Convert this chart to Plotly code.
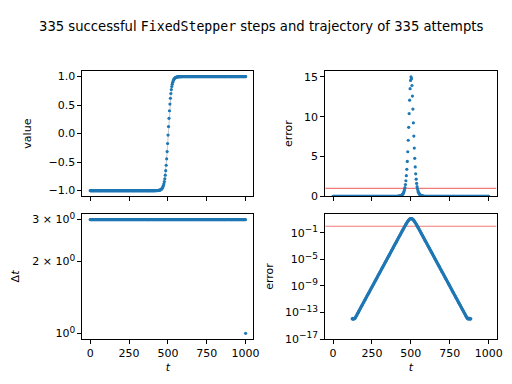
import plotly.graph_objects as go

# ---------------- data ----------------
n_steps = 335
tolerance = 1.0

# step sizes of the 335 successful steps (last one shortened to land on t=1000)
dt = [3.0] * 334 + [1.0]

# trajectory value: -1 plateau, transition t=405..597, +1 plateau
value_transition = [
    -0.9999, -0.9999, -0.9998, -0.9997, -0.9996, -0.9994, -0.9992, -0.9989, -0.9986, -0.9981,
    -0.9974, -0.9965, -0.9953, -0.9937, -0.9914, -0.9885, -0.9845, -0.9791, -0.9719, -0.9622,
    -0.9494, -0.9325, -0.9097, -0.8799, -0.8412, -0.7915, -0.7283, -0.6498, -0.5546, -0.4422,
    -0.3140, -0.1732, -0.0250,
    0.1244, 0.2683, 0.4011, 0.5190, 0.6201, 0.7039, 0.7718, 0.8260, 0.8680, 0.9007,
    0.9257, 0.9443, 0.9584, 0.9690, 0.9769, 0.9828, 0.9873, 0.9905, 0.9930, 0.9948,
    0.9961, 0.9971, 0.9979, 0.9984, 0.9988, 0.9991, 0.9994, 0.9995, 0.9997, 0.9997,
    0.9998, 0.9999,
]
value = [-1.0] * 135 + value_transition + [1.0] * 135

# error: zero far from the front, tiny plateau, log-linear tails, peak
err_left_plateau_log10 = [-13.95, -13.90, -14.00, -13.92, -13.97, -13.90]
err_left_tail_log10 = [
    -13.88, -13.75, -13.62, -13.49, -13.36, -13.23, -13.10, -12.97, -12.84, -12.71,
    -12.58, -12.44, -12.31, -12.18, -12.05, -11.92, -11.79, -11.66, -11.53, -11.40,
    -11.27, -11.14, -11.01, -10.88, -10.75, -10.62, -10.49, -10.36, -10.23, -10.10,
    -9.97, -9.84, -9.71, -9.58, -9.45, -9.32, -9.19, -9.06, -8.93, -8.80,
    -8.67, -8.54, -8.41, -8.28, -8.15, -8.02, -7.89, -7.76, -7.63, -7.49,
    -7.36, -7.23, -7.10, -6.97, -6.84, -6.71, -6.58, -6.45, -6.32, -6.19,
    -6.06, -5.93, -5.80, -5.67, -5.54, -5.41, -5.28, -5.15, -5.02, -4.89,
    -4.76, -4.63, -4.50, -4.37, -4.24, -4.11, -3.98, -3.85, -3.72, -3.59,
    -3.46, -3.33, -3.19, -3.06, -2.93, -2.80, -2.67, -2.54, -2.41, -2.28,
    -2.15, -2.02, -1.89, -1.76, -1.63, -1.50, -1.37, -1.24, -1.11, -0.98,
]
err_peak = [
    0.141, 0.190, 0.256, 0.344, 0.462, 0.621, 0.832, 1.11, 1.48, 1.96,
    2.59, 3.39, 4.39, 5.60, 7.04, 8.67, 10.39, 12.07, 13.52, 14.55,
    14.99, 14.77, 13.92, 12.59, 10.96, 9.23, 7.57, 6.06, 4.77, 3.70,
    2.83, 2.15, 1.62, 1.22, 0.917, 0.685, 0.510, 0.380, 0.282, 0.210,
    0.156,
]
err_right_tail_log10 = [
    -0.94, -1.07, -1.20, -1.33, -1.46, -1.59, -1.72, -1.85, -1.98, -2.11,
    -2.24, -2.37, -2.50, -2.63, -2.76, -2.89, -3.02, -3.15, -3.28, -3.41,
    -3.54, -3.67, -3.80, -3.93, -4.06, -4.19, -4.32, -4.45, -4.58, -4.71,
    -4.85, -4.98, -5.11, -5.24, -5.37, -5.50, -5.63, -5.76, -5.89, -6.02,
    -6.15, -6.28, -6.41, -6.54, -6.67, -6.80, -6.93, -7.06, -7.19, -7.32,
    -7.45, -7.58, -7.71, -7.84, -7.97, -8.10, -8.23, -8.36, -8.49, -8.62,
    -8.75, -8.88, -9.01, -9.14, -9.27, -9.41, -9.54, -9.67, -9.80, -9.93,
    -10.06, -10.19, -10.32, -10.45, -10.58, -10.71, -10.84, -10.97, -11.10, -11.23,
    -11.36, -11.49, -11.62, -11.75, -11.88, -12.01, -12.14, -12.27, -12.40, -12.53,
    -12.66, -12.79, -12.92, -13.05, -13.18, -13.31, -13.44, -13.57, -13.70, -13.83,
]
err_right_plateau_log10 = [-13.92, -13.97, -13.85, -13.95, -13.90, -14.00, -13.92, -13.96]

error = (
    [0.0] * 41
    + [10 ** e for e in err_left_plateau_log10]
    + [10 ** e for e in err_left_tail_log10]
    + err_peak
    + [10 ** e for e in err_right_tail_log10]
    + [10 ** e for e in err_right_plateau_log10]
    + [0.0] * 39
)

# time of each step: t0 = 0, then accumulate the step sizes
t = [0.0]
for d in dt[1:]:
    t.append(t[-1] + d)

# tick labels
SUP = "<sup><span style='font-size:9px'>{}</span></sup>"
x_ticks = [0, 250, 500, 750, 1000]
value_ticks = [-1.0, -0.5, 0.0, 0.5, 1.0]
value_ticklabels = ["\u22121.0", "\u22120.5", "0.0", "0.5", "1.0"]
err_ticks = [0, 5, 10, 15]
dt_ticks = [1, 2, 3]
dt_ticklabels = ["10" + SUP.format("0"), "2 \u00d7 10" + SUP.format("0"), "3 \u00d7 10" + SUP.format("0")]
logerr_ticks = [1e-17, 1e-13, 1e-9, 1e-5, 1e-1]
logerr_ticklabels = ["10" + SUP.format(s) for s in ["\u221217", "\u221213", "\u22129", "\u22125", "\u22121"]]

# ---------------- figure ----------------
BLUE = "#1f77b4"
RED = "rgba(232,40,40,0.62)"
FONT = "DejaVu Sans"
MS = 3.2
x_range = [-50, 1050]

fig = go.Figure()

# top-left: trajectory line + successful steps
fig.add_trace(go.Scatter(x=t, y=value, mode="lines", line=dict(color="rgba(0,0,0,0.22)", width=1),
                         xaxis="x", yaxis="y", hoverinfo="skip"))
fig.add_trace(go.Scatter(x=t, y=value, mode="markers", marker=dict(color=BLUE, size=MS, line=dict(width=0)),
                         xaxis="x", yaxis="y"))
# top-right: linear error
fig.add_trace(go.Scatter(x=x_range, y=[tolerance, tolerance], mode="lines",
                         line=dict(color=RED, width=1.1), xaxis="x2", yaxis="y2"))
fig.add_trace(go.Scatter(x=t, y=error, mode="markers", marker=dict(color=BLUE, size=MS, line=dict(width=0)),
                         xaxis="x2", yaxis="y2"))
# bottom-left: step sizes
fig.add_trace(go.Scatter(x=t, y=dt, mode="markers", marker=dict(color=BLUE, size=MS, line=dict(width=0)),
                         xaxis="x3", yaxis="y3"))
# bottom-right: log error
fig.add_trace(go.Scatter(x=x_range, y=[tolerance, tolerance], mode="lines",
                         line=dict(color=RED, width=1.1), xaxis="x4", yaxis="y4"))
err_pos_t = [ti for ti, e in zip(t, error) if e > 0]
err_pos = [e for e in error if e > 0]
fig.add_trace(go.Scatter(x=err_pos_t, y=err_pos, mode="markers", marker=dict(color=BLUE, size=MS, line=dict(width=0)),
                         xaxis="x4", yaxis="y4"))

tickfont = dict(family=FONT, size=11, color="black")
titlefont = dict(family=FONT, size=11, color="black")
common = dict(showline=True, mirror=True, linecolor="black", linewidth=1, ticks="outside", ticklen=4,
              tickwidth=1, tickcolor="black", showgrid=False, zeroline=False, tickfont=tickfont)

colL = [75.3 / 512, 248.3 / 512]
colR = [321.0 / 512, 494.3 / 512]
rowT = [1 - 190.3 / 384, 1 - 61.5 / 384]
rowB = [1 - 336.8 / 384, 1 - 208.3 / 384]

fig.update_layout(
    width=512, height=384, margin=dict(l=0, r=0, t=0, b=0),
    paper_bgcolor="white", plot_bgcolor="white", showlegend=False,
    font=dict(family=FONT, size=11, color="black"),
    xaxis=dict(domain=colL, anchor="y", range=x_range, tickvals=x_ticks, showticklabels=False, **common),
    yaxis=dict(domain=rowT, anchor="x", range=[-1.1, 1.1], tickvals=value_ticks, ticktext=value_ticklabels,
               title=dict(text="value", font=titlefont, standoff=14), **common),
    xaxis2=dict(domain=colR, anchor="y2", range=x_range, tickvals=x_ticks, showticklabels=False, **common),
    yaxis2=dict(domain=rowT, anchor="x2", range=[0, 15.75], tickvals=err_ticks,
                title=dict(text="error", font=titlefont, standoff=9), **common),
    xaxis3=dict(domain=colL, anchor="y3", range=x_range, tickvals=x_ticks,
                title=dict(text="<i>t</i>", font=titlefont, standoff=4), **common),
    yaxis3=dict(domain=rowB, anchor="x3", type="log", range=[-0.0239, 0.501], tickvals=dt_ticks,
                ticktext=dt_ticklabels, title=dict(text="\u0394<i>t</i>", font=titlefont, standoff=10), **common),
    xaxis4=dict(domain=colR, anchor="y4", range=x_range, tickvals=x_ticks,
                title=dict(text="<i>t</i>", font=titlefont, standoff=4), **common),
    yaxis4=dict(domain=rowB, anchor="x4", type="log", range=[-17, 1.87], tickvals=logerr_ticks,
                ticktext=logerr_ticklabels, title=dict(text="error", font=titlefont, standoff=9), **common),
)

fig.add_annotation(
    text="335 successful <span style='font-family:DejaVu Sans Mono'>FixedStepper</span> steps and trajectory of 335 attempts",
    x=0.5, y=1 - 16.0 / 384, xref="paper", yref="paper", xanchor="center", yanchor="middle",
    showarrow=False, font=dict(family=FONT, size=13.2, color="black"),
)

fig.write_html("out.html")
